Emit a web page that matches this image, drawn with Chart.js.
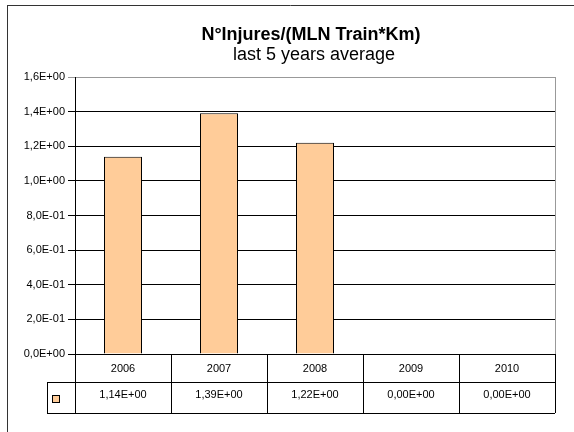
<!DOCTYPE html>
<html>
<head>
<meta charset="utf-8">
<script src="https://cdn.jsdelivr.net/npm/chart.js@4/dist/chart.umd.min.js"></script>
<style>
  html, body { margin: 0; padding: 0; background: #fff; }
  canvas { display: block; }
</style>
</head>
<body>
<canvas id="chart" width="574" height="432"></canvas>
<script>
const years = ['2006', '2007', '2008', '2009', '2010'];
const injuries = [1.14, 1.39, 1.22, 0, 0];
const yTicks = [0, 0.2, 0.4, 0.6, 0.8, 1.0, 1.2, 1.4, 1.6];

const titleText = 'N\u00b0Injures/(MLN Train*Km)';
const subtitleText = 'last 5 years average';

const barFill = '#FFCC99';
const font = '"Liberation Sans", Arial, sans-serif';

/* Helpers */

// Excel-style scientific notation with comma decimals: 1,6E+00
function sci(v, digits) {
    const [m, e] = v.toExponential(digits).split('e');
    const n = parseInt(e, 10);
    return m.replace('.', ',') + 'E' + (n < 0 ? '-' : '+') + String(Math.abs(n)).padStart(2, '0');
}

function hline(ctx, x1, x2, y) {
    ctx.beginPath();
    ctx.moveTo(x1, y + 0.5);
    ctx.lineTo(x2, y + 0.5);
    ctx.stroke();
}

function vline(ctx, x, y1, y2) {
    ctx.beginPath();
    ctx.moveTo(x + 0.5, y1);
    ctx.lineTo(x + 0.5, y2);
    ctx.stroke();
}

const decorPlugin = {
    id: 'decor',
    afterDraw(chart) {
        const ctx = chart.ctx;
        const area = chart.chartArea;
        const x = chart.scales.x;
        const left = Math.round(area.left);
        const right = Math.round(area.right);
        const top = Math.round(area.top);
        const bottom = Math.round(area.bottom);
        ctx.save();

        // outer frame
        ctx.strokeStyle = '#333';
        ctx.lineWidth = 1;
        hline(ctx, 7, 574, 5);
        vline(ctx, 7, 5, 432);

        // right border of plot
        ctx.strokeStyle = '#999';
        vline(ctx, right, top, bottom);

        // titles
        ctx.fillStyle = '#000';
        ctx.textAlign = 'center';
        ctx.textBaseline = 'alphabetic';
        ctx.font = 'bold 18px ' + font;
        ctx.fillText(titleText, 311, 40);
        ctx.font = '18px ' + font;
        ctx.fillText(subtitleText, 314, 60);

        // data table
        const r1 = bottom + 28;
        const r2 = bottom + 59;
        const legendLeft = 47;
        const half = (x.getPixelForValue(1) - x.getPixelForValue(0)) / 2;

        ctx.strokeStyle = '#000';
        hline(ctx, left, right, bottom);
        hline(ctx, legendLeft, right, r1);
        hline(ctx, legendLeft, right, r2);
        vline(ctx, legendLeft, r1, r2);
        vline(ctx, left, bottom, r2);
        years.forEach((yr, i) => {
            const cx = x.getPixelForValue(i);
            vline(ctx, Math.round(cx + half), bottom, r2);
        });

        ctx.font = '11px ' + font;
        ctx.fillStyle = '#000';
        ctx.textBaseline = 'middle';
        years.forEach((yr, i) => {
            const cx = x.getPixelForValue(i);
            ctx.fillText(yr, cx, bottom + 15);
            ctx.fillText(sci(injuries[i], 2), cx, r1 + 13);
        });

        // legend key
        ctx.fillStyle = barFill;
        ctx.fillRect(52.5, r1 + 13.5, 7, 7);
        ctx.strokeStyle = '#000';
        ctx.strokeRect(52.5, r1 + 13.5, 7, 7);

        ctx.restore();
    }
};

new Chart(document.getElementById('chart'), {
    type: 'bar',
    data: {
        labels: years,
        datasets: [{
            data: injuries,
            backgroundColor: barFill,
            borderColor: '#000',
            borderWidth: 1,
            categoryPercentage: 1,
            barPercentage: 38 / 96
        }]
    },
    options: {
        responsive: false,
        animation: false,
        devicePixelRatio: 1,
        layout: { padding: { left: 0, top: 77, right: 19, bottom: 78 } },
        plugins: {
            legend: { display: false },
            tooltip: { enabled: false }
        },
        scales: {
            x: { display: false },
            y: {
                min: 0,
                max: 1.6,
                afterFit: s => { s.width = 75; },
                afterBuildTicks: s => { s.ticks = yTicks.map(v => ({ value: v })); },
                ticks: {
                    color: '#000',
                    padding: 3,
                    font: { family: font, size: 11 },
                    callback: v => sci(v, 1)
                },
                grid: {
                    color: c => c.tick && c.tick.value === 1.6 ? '#999' : '#000',
                    tickLength: 7,
                    drawTicks: true
                },
                border: { color: '#000' }
            }
        }
    },
    plugins: [decorPlugin]
});
</script>
</body>
</html>
